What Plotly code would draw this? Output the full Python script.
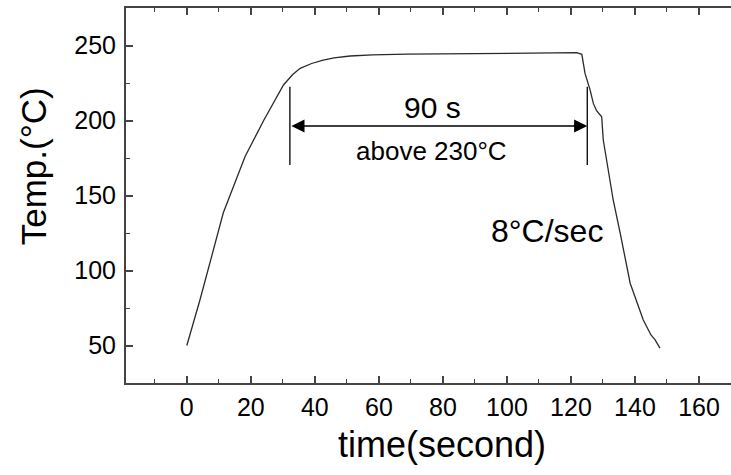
import plotly.graph_objects as go

# ---- data ----
time_s = [0, 4.1, 8.3, 11.4, 12.4, 18.2, 24, 30.2, 33, 35.4, 39, 42.6, 46, 51, 58,
          68.7, 90, 110, 118.2, 121.8, 123.4, 124.4, 126, 127, 128, 129.6, 130.1,
          133.2, 135.4, 138.5, 142.6, 145, 146.3, 147.8]
temp_c = [50, 80.3, 113.7, 138.5, 144, 176, 200, 223.7, 230.5, 234.8, 238, 240.3,
          241.7, 243, 243.8, 244.3, 244.6, 244.7, 244.8, 245.2, 244.1, 231.4, 220.3,
          211.4, 206.5, 202.5, 187, 147, 124.8, 91.5, 67, 57, 53.7, 48.2]

x_ticks = [0, 20, 40, 60, 80, 100, 120, 140, 160]
y_ticks = [50, 100, 150, 200, 250]

# annotation anchors (data units)
span_start, span_end = 32.2, 125.1      # 90 s window above 230 C
span_level = 196.3
bar_low, bar_high = 170.3, 222.5

FONT = "Arial, 'Liberation Sans', sans-serif"
AXC = "#444444"

fig = go.Figure()
fig.add_trace(go.Scatter(x=time_s, y=temp_c, mode="lines",
                         line=dict(color="#2a2a2a", width=1.3), showlegend=False,
                         hoverinfo="skip"))

for xv in (span_start, span_end):
    fig.add_shape(type="line", x0=xv, x1=xv, y0=bar_low, y1=bar_high,
                  xref="x", yref="y", line=dict(color="black", width=1.3))

fig.add_annotation(x=span_end, y=span_level, ax=span_start, ay=span_level,
                   xref="x", yref="y", axref="x", ayref="y", text="",
                   showarrow=True, arrowhead=2, startarrowhead=2,
                   arrowside="end+start", arrowsize=1.75, startarrowsize=1.75,
                   arrowwidth=1.5, arrowcolor="black", standoff=0, startstandoff=0)

fig.add_annotation(x=76.8, y=208.7, xref="x", yref="y", text="90 s", showarrow=False,
                   font=dict(family=FONT, size=30, color="black"),
                   xanchor="center", yanchor="middle")
fig.add_annotation(x=76.5, y=179.4, xref="x", yref="y", text="above 230°C",
                   showarrow=False, font=dict(family=FONT, size=26, color="black"),
                   xanchor="center", yanchor="middle")
fig.add_annotation(x=112.4, y=126.3, xref="x", yref="y", text="8°C/sec",
                   showarrow=False, font=dict(family=FONT, size=32, color="black"),
                   xanchor="center", yanchor="middle")

# axis titles
fig.add_annotation(x=-0.153, y=0.579, xref="paper", yref="paper", text="Temp.(°C)",
                   textangle=-90, showarrow=False,
                   font=dict(family=FONT, size=35, color="black"),
                   xanchor="center", yanchor="middle")
fig.add_annotation(x=0.5223, y=-0.165, xref="paper", yref="paper", text="time(second)",
                   showarrow=False, font=dict(family=FONT, size=36, color="black"),
                   xanchor="center", yanchor="middle")

fig.update_layout(
    width=731, height=475,
    margin=dict(l=126, r=0, t=8, b=92),
    paper_bgcolor="white", plot_bgcolor="white",
    font=dict(family=FONT, color="black"),
    xaxis=dict(range=[-19, 170], tickmode="array", tickvals=x_ticks,
               ticktext=[str(v) for v in x_ticks],
               ticks="inside", ticklen=7, tickwidth=1.5, tickcolor=AXC,
               showline=True, linecolor=AXC, linewidth=2, mirror="ticks",
               showgrid=False, zeroline=False,
               tickfont=dict(family=FONT, size=25, color="black"),
               ticklabelstandoff=1,
               minor=dict(ticks="inside", ticklen=4, tickwidth=1.2, tickcolor=AXC,
                          dtick=10, tick0=0, showgrid=False)),
    yaxis=dict(range=[25, 275], tickmode="array", tickvals=y_ticks,
               ticktext=[str(v) for v in y_ticks],
               ticks="inside", ticklen=7, tickwidth=1.5, tickcolor=AXC,
               showline=True, linecolor=AXC, linewidth=2, mirror=False,
               showgrid=False, zeroline=False,
               tickfont=dict(family=FONT, size=25, color="black"),
               ticklabelstandoff=3,
               minor=dict(ticks="inside", ticklen=4, tickwidth=1.2, tickcolor=AXC,
                          dtick=25, tick0=25, showgrid=False)),
    yaxis2=dict(range=[25, 275], overlaying="y", side="right", anchor="x",
                tickmode="array", tickvals=y_ticks, showticklabels=False,
                ticks="inside", ticklen=7, tickwidth=1.5, tickcolor=AXC,
                showline=False, showgrid=False, zeroline=False,
                minor=dict(ticks="inside", ticklen=4, tickwidth=1.2, tickcolor=AXC,
                           dtick=25, tick0=25, showgrid=False)),
)

fig.write_html("out.html", config={"displayModeBar": False},
               post_script="document.body.style.margin='0';"
                           "document.body.style.overflow='hidden';")
